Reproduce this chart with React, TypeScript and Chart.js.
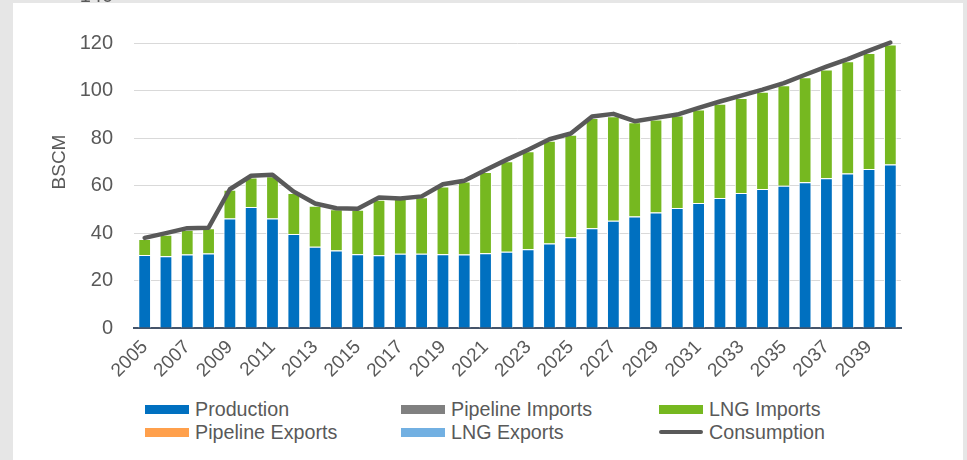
import React, { useEffect, useRef } from "react";
import { Chart, registerables } from "chart.js";

Chart.register(...registerables);

const years = [
  "2005", "2006", "2007", "2008", "2009", "2010", "2011", "2012", "2013", "2014",
  "2015", "2016", "2017", "2018", "2019", "2020", "2021", "2022", "2023", "2024",
  "2025", "2026", "2027", "2028", "2029", "2030", "2031", "2032", "2033", "2034",
  "2035", "2036", "2037", "2038", "2039", "2040",
];

const shownYearLabels = [
  "2005", "2007", "2009", "2011", "2013", "2015", "2017", "2019", "2021",
  "2023", "2025", "2027", "2029", "2031", "2033", "2035", "2037", "2039",
];

const production = [
  30.8, 30.3, 31.0, 31.4, 46.2, 51.0, 46.2, 39.6, 34.3, 32.7,
  31.1, 30.7, 31.3, 31.3, 31.1, 31.0, 31.5, 32.2, 33.2, 35.6,
  38.3, 42.1, 45.2, 47.0, 48.7, 50.6, 52.7, 54.8, 56.9, 58.6,
  60.0, 61.5, 63.2, 65.1, 67.0, 68.9,
];

const pipelineImports = [
  0, 0, 0, 0, 0, 0, 0, 0, 0, 0, 0, 0, 0, 0, 0, 0, 0, 0,
  0, 0, 0, 0, 0, 0, 0, 0, 0, 0, 0, 0, 0, 0, 0, 0, 0, 0,
];

const lngImports = [
  6.7, 9.0, 10.4, 10.7, 12.1, 12.5, 17.8, 17.3, 17.3, 17.4,
  18.8, 23.4, 24.0, 23.8, 28.6, 30.8, 34.3, 38.1, 41.3, 43.4,
  43.2, 46.5, 44.1, 39.8, 39.2, 39.0, 39.4, 39.8, 40.1, 41.0,
  42.4, 44.2, 45.8, 47.4, 49.0, 50.7,
];

const pipelineExports = [
  0, 0, 0, 0, 0, 0, 0, 0, 0, 0, 0, 0, 0, 0, 0, 0, 0, 0,
  0, 0, 0, 0, 0, 0, 0, 0, 0, 0, 0, 0, 0, 0, 0, 0, 0, 0,
];

const lngExports = [
  0, 0, 0, 0, 0, 0, 0, 0, 0, 0, 0, 0, 0, 0, 0, 0, 0, 0,
  0, 0, 0, 0, 0, 0, 0, 0, 0, 0, 0, 0, 0, 0, 0, 0, 0, 0,
];

const consumption = [
  38.0, 40.0, 42.1, 42.3, 58.5, 64.2, 64.6, 57.5, 52.5, 50.5,
  50.3, 55.0, 54.6, 55.5, 60.6, 62.1, 66.6, 71.0, 75.2, 79.6,
  82.0, 89.2, 90.3, 87.2, 88.6, 90.0, 92.8, 95.5, 98.0, 100.5,
  103.3, 106.8, 110.2, 113.4, 117.0, 120.4,
];

const yTicks = [0, 20, 40, 60, 80, 100, 120, 140];

const legendItems = [
  { label: "Production", color: "#0070C0", kind: "box" },
  { label: "Pipeline Imports", color: "#808080", kind: "box" },
  { label: "LNG Imports", color: "#76B820", kind: "box" },
  { label: "Pipeline Exports", color: "#FFA04C", kind: "box" },
  { label: "LNG Exports", color: "#72B0E2", kind: "box" },
  { label: "Consumption", color: "#595959", kind: "line" },
];

const FONT = "'Liberation Sans', Arial, sans-serif";
const TEXT = "#595959";

export default function App() {
  const ref = useRef<HTMLCanvasElement | null>(null);

  useEffect(() => {
    if (!ref.current) return;
    const chart = new Chart(ref.current, {
      type: "bar",
      data: {
        labels: years,
        datasets: [
          {
            type: "line",
            label: "Consumption",
            data: consumption,
            borderColor: "#595959",
            backgroundColor: "#595959",
            borderWidth: 4.5,
            pointRadius: 0,
            tension: 0,
            stack: "line",
            order: 0,
            borderCapStyle: "round",
            borderJoinStyle: "round",
          } as any,
          {
            label: "Production",
            data: production,
            backgroundColor: "#0070C0",
            borderColor: "#ffffff",
            borderWidth: 1,
            stack: "s",
            order: 1,
          },
          {
            label: "Pipeline Imports",
            data: pipelineImports,
            backgroundColor: "#808080",
            borderWidth: 0,
            stack: "s",
            order: 1,
          },
          {
            label: "LNG Imports",
            data: lngImports,
            backgroundColor: "#76B820",
            borderColor: "#ffffff",
            borderWidth: 1,
            stack: "s",
            order: 1,
          },
          {
            label: "Pipeline Exports",
            data: pipelineExports,
            backgroundColor: "#FFA04C",
            borderWidth: 0,
            stack: "s",
            order: 1,
          },
          {
            label: "LNG Exports",
            data: lngExports,
            backgroundColor: "#72B0E2",
            borderWidth: 0,
            stack: "s",
            order: 1,
          },
        ],
      },
      options: {
        animation: false,
        responsive: false,
        devicePixelRatio: 1,
        layout: { padding: { top: 36, right: 66, left: 0, bottom: 0 } },
        plugins: {
          legend: { display: false },
          tooltip: { enabled: false },
        },
        datasets: {
          bar: { categoryPercentage: 1, barPercentage: 0.6 },
        },
        scales: {
          x: {
            stacked: true,
            grid: { display: false, drawTicks: false },
            border: { display: true, color: "#44546A", width: 2 },
            ticks: {
              autoSkip: false,
              maxRotation: 45,
              minRotation: 45,
              padding: 8,
              color: TEXT,
              font: { family: FONT, size: 19 },
              callback: (_v: any, i: number) =>
                shownYearLabels.includes(years[i]) ? years[i] : "",
            },
            afterFit: (s: any) => {
              s.height = 52;
            },
          },
          y: {
            stacked: true,
            min: 0,
            max: yTicks[yTicks.length - 1],
            afterBuildTicks: (s: any) => {
              s.ticks = yTicks.map((v) => ({ value: v }));
            },
            grid: { color: "#d9d9d9", lineWidth: 1, drawTicks: false },
            border: { display: false },
            ticks: {
              padding: 21,
              color: TEXT,
              font: { family: FONT, size: 20 },
            },
            title: {
              display: true,
              text: "BSCM",
              color: TEXT,
              font: { family: FONT, size: 19 },
              padding: { top: 48, bottom: 0 },
            },
            afterFit: (s: any) => {
              s.width = 134;
            },
          },
        },
      },
    });
    return () => chart.destroy();
  }, []);

  const cols = [145, 401, 659];
  const rows = [409, 432];

  return (
    <div
      style={{
        position: "fixed",
        left: 0,
        top: 0,
        width: 967,
        height: 460,
        background: "#e6e6e6",
        overflow: "hidden",
      }}
    >
      <div
        style={{
          position: "absolute",
          left: 13,
          top: 3,
          width: 950,
          height: 460,
          background: "#ffffff",
        }}
      />
      <canvas
        ref={ref}
        width={967}
        height={420}
        style={{ position: "absolute", left: 0, top: -40, width: 967, height: 420 }}
      />
      {legendItems.map((it, i) => {
        const left = cols[i % 3];
        const cy = rows[Math.floor(i / 3)];
        return (
          <div
            key={it.label}
            style={{
              position: "absolute",
              left,
              top: cy - 12,
              height: 24,
              display: "flex",
              alignItems: "center",
              fontFamily: FONT,
              fontSize: 19.7,
              color: TEXT,
              whiteSpace: "nowrap",
            }}
          >
            {it.kind === "box" ? (
              <span
                style={{
                  display: "inline-block",
                  width: 44,
                  height: 9,
                  background: it.color,
                  marginRight: 6,
                }}
              />
            ) : (
              <span
                style={{
                  display: "inline-block",
                  width: 44,
                  height: 4,
                  borderRadius: 2,
                  background: it.color,
                  marginRight: 6,
                }}
              />
            )}
            <span>{it.label}</span>
          </div>
        );
      })}
    </div>
  );
}
